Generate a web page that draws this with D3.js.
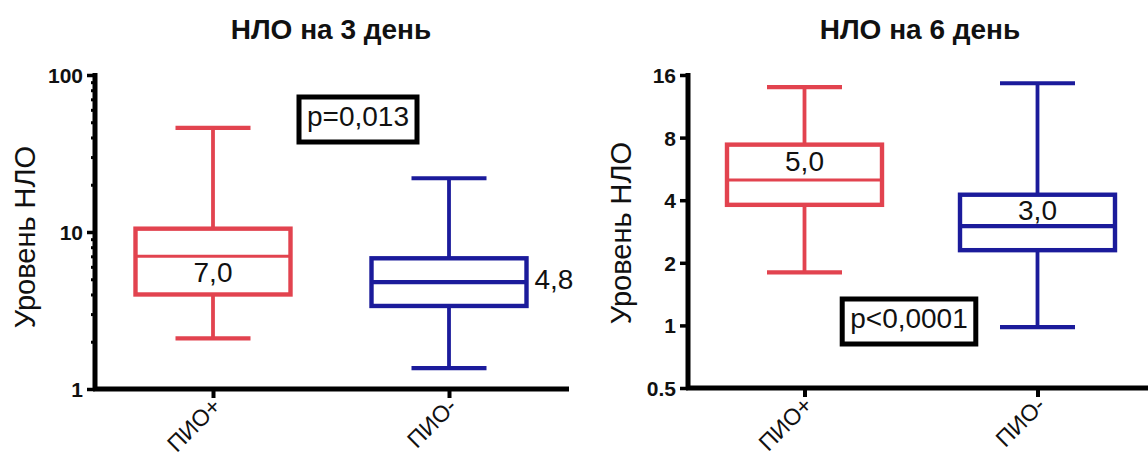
<!DOCTYPE html>
<html>
<head>
<meta charset="utf-8">
<script src="https://cdn.jsdelivr.net/npm/d3@7"></script>
<style>
  html, body { margin: 0; padding: 0; background: #fff; }
  svg { display: block; }
  text { font-family: Arial, "Liberation Sans", sans-serif; fill: #111; }
</style>
</head>
<body>
<svg id="chart" width="1148" height="461"></svg>
<script>
// Groups
const categories = ["ПИО+", "ПИО-"];

// NLO level, day 3 (box-and-whisker summary per group)
const day3Min    = [2.1, 1.36];
const day3Q1     = [4.0, 3.38];
const day3Median = [7.0, 4.8];
const day3Q3     = [10.5, 6.8];
const day3Max    = [46, 22];
const day3Labels = ["7,0", "4,8"];
const day3Ticks  = [1, 10, 100];
const day3TickLabels = ["1", "10", "100"];
const day3Minor  = [2, 3, 4, 5, 6, 7, 8, 9, 20, 30, 40, 50, 60, 70, 80, 90];
const day3P = "p=0,013";

// NLO level, day 6
const day6Min    = [1.8, 0.98];
const day6Q1     = [3.8, 2.3];
const day6Median = [5.0, 3.0];
const day6Q3     = [7.4, 4.25];
const day6Max    = [14, 14.6];
const day6Labels = ["5,0", "3,0"];
const day6Ticks  = [0.5, 1, 2, 4, 8, 16];
const day6TickLabels = ["0.5", "1", "2", "4", "8", "16"];
const day6P = "p<0,0001";

const colors = ["#e2434f", "#1b1b9b"];
const medianWidth = [3, 4.2];

const svg = d3.select("#chart");

function drawPanel(cfg) {
  const g = svg.append("g");
  const y = d3.scaleLog().base(cfg.base).domain(cfg.domain).range([cfg.yBottom, cfg.yTop]);
  const x = d3.scalePoint().domain(categories).range([cfg.x0, cfg.x1]).padding(0.5);

  // title
  g.append("text")
    .attr("x", cfg.titleX).attr("y", 39)
    .attr("text-anchor", "middle")
    .style("font-size", "28px").style("font-weight", "bold")
    .text(cfg.title);

  // y axis label
  g.append("text")
    .attr("transform", `translate(${cfg.ylabX},${cfg.ylabY}) rotate(-90)`)
    .attr("text-anchor", "middle")
    .style("font-size", "29px")
    .text("Уровень НЛО");

  // boxes
  const data = categories.map((c, i) => ({
    c, i, min: cfg.min[i], q1: cfg.q1[i], med: cfg.med[i], q3: cfg.q3[i], max: cfg.max[i]
  }));
  const boxW = 155, capW = 75;
  const bx = g.selectAll("g.box").data(data).join("g").attr("class", "box");
  bx.append("line")
    .attr("x1", d => x(d.c)).attr("x2", d => x(d.c))
    .attr("y1", d => y(d.max)).attr("y2", d => y(d.q3))
    .attr("stroke", d => colors[d.i]).attr("stroke-width", 3.8);
  bx.append("line")
    .attr("x1", d => x(d.c)).attr("x2", d => x(d.c))
    .attr("y1", d => y(d.q1)).attr("y2", d => y(d.min))
    .attr("stroke", d => colors[d.i]).attr("stroke-width", 3.8);
  ["max", "min"].forEach(k => {
    bx.append("line")
      .attr("x1", d => x(d.c) - capW / 2).attr("x2", d => x(d.c) + capW / 2)
      .attr("y1", d => y(d[k])).attr("y2", d => y(d[k]))
      .attr("stroke", d => colors[d.i]).attr("stroke-width", 4.2);
  });
  bx.append("rect")
    .attr("x", d => x(d.c) - boxW / 2).attr("width", boxW)
    .attr("y", d => y(d.q3)).attr("height", d => y(d.q1) - y(d.q3))
    .attr("fill", "#fff")
    .attr("stroke", d => colors[d.i]).attr("stroke-width", 4.4);
  bx.append("line")
    .attr("x1", d => x(d.c) - boxW / 2).attr("x2", d => x(d.c) + boxW / 2)
    .attr("y1", d => y(d.med)).attr("y2", d => y(d.med))
    .attr("stroke", d => colors[d.i]).attr("stroke-width", d => medianWidth[d.i]);

  // median labels
  bx.append("text")
    .attr("x", d => cfg.labelPos[d.i].side ? x(d.c) + boxW / 2 + 8 : x(d.c))
    .attr("y", d => y(d.med) + cfg.labelPos[d.i].dy)
    .attr("text-anchor", d => cfg.labelPos[d.i].side ? "start" : "middle")
    .style("font-size", "28px")
    .text((d) => cfg.labels[d.i]);

  // y axis
  const yAxis = d3.axisLeft(y).tickValues(cfg.ticks)
    .tickFormat((d, i) => cfg.tickLabels[i]).tickSize(8).tickSizeOuter(0).tickPadding(4);
  const ya = g.append("g").attr("transform", `translate(${cfg.x0},0)`).call(yAxis);
  ya.select(".domain").attr("stroke", "#000").attr("stroke-width", 5)
    .attr("d", `M0,${cfg.yTop - 2}V${cfg.yBottom + 2}`);
  ya.selectAll(".tick line").attr("stroke", "#000").attr("stroke-width", 3.5);
  ya.selectAll(".tick text").style("font-size", "21px").style("font-weight", "bold")
    .attr("fill", "#111").attr("dy", "0.36em");
  if (cfg.minor) {
    const minorAxis = d3.axisLeft(y).tickValues(cfg.minor).tickFormat("").tickSize(4).tickSizeOuter(0);
    const ma = g.append("g").attr("transform", `translate(${cfg.x0},0)`).call(minorAxis);
    ma.select(".domain").remove();
    ma.selectAll(".tick line").attr("stroke", "#000").attr("stroke-width", 3);
  }

  // x axis
  const xAxis = d3.axisBottom(x).tickSize(9).tickSizeOuter(0).tickPadding(0);
  const xa = g.append("g").attr("transform", `translate(0,${cfg.yBottom})`).call(xAxis);
  xa.select(".domain").attr("stroke", "#000").attr("stroke-width", 5)
    .attr("d", `M${cfg.x0 - 2},0H${cfg.xAxisEnd}`);
  xa.selectAll(".tick line").attr("stroke", "#000").attr("stroke-width", 4);
  xa.selectAll(".tick text")
    .style("font-size", "23px").attr("fill", "#111")
    .attr("text-anchor", "end")
    .attr("transform", "translate(3,13) rotate(-45)")
    .attr("y", 0).attr("dy", "0.35em");

  // p-value annotation
  const pt = g.append("text")
    .attr("x", cfg.pX).attr("y", cfg.pY)
    .attr("text-anchor", "middle")
    .style("font-size", "28px")
    .text(cfg.p);
  const bb = pt.node().getBBox();
  g.insert("rect", () => pt.node())
    .attr("x", bb.x - 8).attr("y", cfg.pY - 29)
    .attr("width", bb.width + 16).attr("height", 45)
    .attr("fill", "#fff").attr("stroke", "#000").attr("stroke-width", 5);
}

drawPanel({
  title: "НЛО на 3 день", titleX: 331,
  base: 10, domain: [1, 100], yBottom: 389, yTop: 75,
  x0: 95, x1: 567, xAxisEnd: 569,
  ylabX: 35, ylabY: 237,
  min: day3Min, q1: day3Q1, med: day3Median, q3: day3Q3, max: day3Max,
  labels: day3Labels,
  labelPos: [{ side: false, dy: 26 }, { side: true, dy: 7 }],
  ticks: day3Ticks, tickLabels: day3TickLabels, minor: day3Minor,
  p: day3P, pX: 358, pY: 126
});

drawPanel({
  title: "НЛО на 6 день", titleX: 920,
  base: 2, domain: [0.5, 16], yBottom: 388, yTop: 75,
  x0: 688, x1: 1154, xAxisEnd: 1148,
  ylabX: 631, ylabY: 233,
  min: day6Min, q1: day6Q1, med: day6Median, q3: day6Q3, max: day6Max,
  labels: day6Labels,
  labelPos: [{ side: false, dy: -9 }, { side: false, dy: -6 }],
  ticks: day6Ticks, tickLabels: day6TickLabels, minor: null,
  p: day6P, pX: 909, pY: 328
});
</script>
</body>
</html>
